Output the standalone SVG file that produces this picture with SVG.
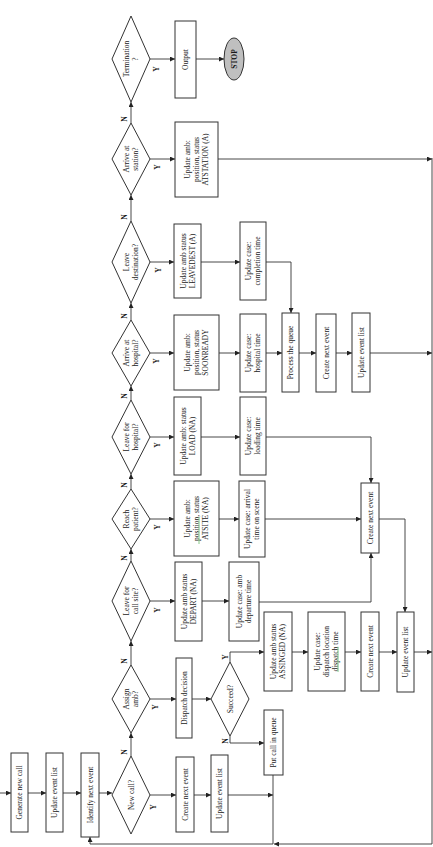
<svg xmlns="http://www.w3.org/2000/svg" width="433" height="847" viewBox="0 0 433 847">
<style>
.b{fill:#fff;stroke:#333;stroke-width:1}
.l{fill:none;stroke:#333;stroke-width:0.9}
.a{marker-end:url(#ar)}
text{font-family:"Liberation Serif","Times New Roman",serif;font-size:7.5px;fill:#1a1a1a;text-anchor:middle}
.lab{font-size:7.5px;font-weight:bold}
.g{stroke:#8c8;stroke-width:1}
</style>
<defs>
<marker id="ar" viewBox="0 0 6 6" refX="6" refY="3" markerWidth="5" markerHeight="5" markerUnits="userSpaceOnUse" orient="auto"><path d="M0,0L6,3L0,6z" fill="#222"/></marker>
</defs>

<g id="connectors">
<path class="l a" d="M0,793H11"/>
<path class="l a" d="M28,793H46"/>
<path class="l a" d="M63,793H81"/>
<path class="l a" d="M99,793H112"/>
<path class="l a" d="M131,756V733"/>
<path class="l a" d="M131,665V641"/>
<path class="l a" d="M131,561V549"/>
<path class="l a" d="M131,489V474"/>
<path class="l a" d="M131,400V386"/>
<path class="l a" d="M131,320V303"/>
<path class="l a" d="M131,221V195"/>
<path class="l a" d="M131,123V102"/>
<path class="l a" d="M150,59H175"/>
<path class="l a" d="M196,59H224"/>
<path class="l a" d="M150,159H175"/>
<path class="l a" d="M218,159H432"/>
<path class="l a" d="M150,262H174"/>
<path class="l a" d="M201,262H240"/>
<path class="l a" d="M266,262H291V313"/>
<path class="l a" d="M150,353H174"/>
<path class="l a" d="M219,353H240"/>
<path class="l a" d="M266,353H282"/>
<path class="l a" d="M299,353H316"/>
<path class="l a" d="M336,353H352"/>
<path class="l a" d="M370,353H432"/>
<path class="l a" d="M150,437H174"/>
<path class="l a" d="M201,437H240"/>
<path class="l a" d="M266,437H371V483"/>
<path class="l a" d="M150,519H174"/>
<path class="l a" d="M219,519H239"/>
<path class="l a" d="M265,519H361"/>
<path class="l a" d="M379,519H405V612"/>
<path class="l a" d="M150,601H175"/>
<path class="l a" d="M202,601H229"/>
<path class="l a" d="M259,602H371V553"/>
<path class="l a" d="M150,699H176"/>
<path class="l a" d="M192,699H211"/>
<path class="l a" d="M230,662V652H264"/>
<path class="l a" d="M292,652H308"/>
<path class="l a" d="M345,652H361"/>
<path class="l a" d="M379,652H397"/>
<path class="l a" d="M414,652H432"/>
<path class="l a" d="M230,736V743H264"/>
<path class="l" d="M273,775V844"/>
<path class="l a" d="M150,795H176"/>
<path class="l a" d="M194,795H211"/>
<path class="l a" d="M228,795H273"/>
<path class="l" d="M432,158V844"/>
<path class="l a" d="M432,844H274"/>
<path class="l a" d="M273,844H90V837"/>
<text class="lab" transform="translate(124,752) rotate(-90)" y="2.6">N</text>
<text class="lab" transform="translate(124,661) rotate(-90)" y="2.6">N</text>
<text class="lab" transform="translate(124,558) rotate(-90)" y="2.6">N</text>
<text class="lab" transform="translate(124,485) rotate(-90)" y="2.6">N</text>
<text class="lab" transform="translate(124,396) rotate(-90)" y="2.6">N</text>
<text class="lab" transform="translate(124,316) rotate(-90)" y="2.6">N</text>
<text class="lab" transform="translate(124,217) rotate(-90)" y="2.6">N</text>
<text class="lab" transform="translate(124,119) rotate(-90)" y="2.6">N</text>
<text class="lab" transform="translate(156,69) rotate(-90)" y="2.6">Y</text>
<text class="lab" transform="translate(157,167) rotate(-90)" y="2.6">Y</text>
<text class="lab" transform="translate(158,270) rotate(-90)" y="2.6">Y</text>
<text class="lab" transform="translate(156,361) rotate(-90)" y="2.6">Y</text>
<text class="lab" transform="translate(157,445) rotate(-90)" y="2.6">Y</text>
<text class="lab" transform="translate(157,527) rotate(-90)" y="2.6">Y</text>
<text class="lab" transform="translate(157,610) rotate(-90)" y="2.6">Y</text>
<text class="lab" transform="translate(155,707) rotate(-90)" y="2.6">Y</text>
<text class="lab" transform="translate(153,807) rotate(-90)" y="2.6">Y</text>
<text class="lab" transform="translate(225,657) rotate(-90)" y="2.6">Y</text>
<text class="lab" transform="translate(225,741) rotate(-90)" y="2.6">N</text>
</g>

<g id="generate">
<rect class="b" x="11" y="753" width="17" height="79"/>
<text transform="translate(19.5,792.5) rotate(-90)" y="2.6">Generate new call</text>
</g>
<g id="update-list-0">
<rect class="b" x="46" y="753" width="17" height="79"/>
<text transform="translate(54.5,792.5) rotate(-90)" y="2.6">Update event list</text>
</g>
<g id="identify">
<rect class="b" x="81" y="753" width="18" height="84"/>
<text transform="translate(90,795) rotate(-90)" y="2.6">Identify next event</text>
</g>

<g id="d-new">
<polygon class="b" points="131,756 150,795 131,834 112,795"/>
<text transform="translate(131,795) rotate(-90)" y="2.6">New call?</text>
</g>
<g id="d-assign">
<polygon class="b" points="131,665 150,699 131,733 112,699"/>
<text transform="translate(131,699) rotate(-90)"><tspan x="0" y="-1.9">Assign</tspan><tspan x="0" y="7.1">amb?</tspan></text>
</g>
<g id="d-site">
<polygon class="b" points="131,561 150,601 131,641 112,601"/>
<text transform="translate(131,601) rotate(-90)"><tspan x="0" y="-1.9">Leave for</tspan><tspan x="0" y="7.1">call site?</tspan></text>
</g>
<g id="d-reach">
<polygon class="b" points="131,489 150,519 131,549 112,519"/>
<text transform="translate(131,519) rotate(-90)"><tspan x="0" y="-1.9">Reach</tspan><tspan x="0" y="7.1">patient?</tspan></text>
</g>
<g id="d-lhosp">
<polygon class="b" points="131,400 150,437 131,474 112,437"/>
<text transform="translate(131,437) rotate(-90)"><tspan x="0" y="-1.9">Leave for</tspan><tspan x="0" y="7.1">hospital?</tspan></text>
</g>
<g id="d-hosp">
<polygon class="b" points="131,320 150,353 131,386 112,353"/>
<text transform="translate(131,353) rotate(-90)"><tspan x="0" y="-1.9">Arrive at</tspan><tspan x="0" y="7.1">hospital?</tspan></text>
</g>
<g id="d-dest">
<polygon class="b" points="131,221 150,262 131,303 112,262"/>
<text transform="translate(131,262) rotate(-90)"><tspan x="0" y="-1.9">Leave</tspan><tspan x="0" y="7.1">destination?</tspan></text>
</g>
<g id="d-station">
<polygon class="b" points="131,123 150,159 131,195 112,159"/>
<text transform="translate(131,159) rotate(-90)"><tspan x="0" y="-1.9">Arrive at</tspan><tspan x="0" y="7.1">station?</tspan></text>
</g>
<g id="d-term">
<polygon class="b" points="131,16 150,59 131,102 112,59"/>
<text transform="translate(131,59) rotate(-90)"><tspan x="0" y="-1.9">Termination</tspan><tspan x="0" y="7.1">?</tspan></text>
</g>

<g id="output">
<rect class="b" x="175" y="21" width="21" height="77"/>
<text transform="translate(185.5,59.5) rotate(-90)" y="2.6">Output</text>
</g>
<g id="stop">
<ellipse cx="234" cy="59" rx="10" ry="21" fill="#bfbfbf" stroke="#333" stroke-width="1"/>
<text transform="translate(234,59) rotate(-90)" y="2.6" font-weight="bold">STOP</text>
</g>

<g id="atstation">
<rect class="b" x="175" y="122" width="43" height="75"/>
<text transform="translate(196.5,159.5) rotate(-90)"><tspan x="0" y="-6.4">Update amb:</tspan><tspan x="0" y="2.6">position, status</tspan><tspan x="0" y="11.6">ATSTATION (A)</tspan></text>
</g>

<g id="leavedest">
<rect class="b" x="174" y="224" width="27" height="74"/>
<text transform="translate(187.5,261) rotate(-90)"><tspan x="0" y="-1.9">Update amb status</tspan><tspan x="0" y="7.1">LEAVEDEST (A)</tspan></text>
</g>
<g id="completion">
<rect class="b" x="240" y="222" width="26" height="78"/>
<text transform="translate(253,261) rotate(-90)"><tspan x="0" y="-1.9">Update case:</tspan><tspan x="0" y="7.1">completion time</tspan></text>
</g>

<g id="soonready">
<rect class="b" x="174" y="315" width="45" height="75"/>
<text transform="translate(196.5,352.5) rotate(-90)"><tspan x="0" y="-6.4">Update amb:</tspan><tspan x="0" y="2.6">position, status</tspan><tspan x="0" y="11.6">SOONREADY</tspan></text>
</g>
<g id="hosptime">
<rect class="b" x="240" y="314" width="26" height="78"/>
<text transform="translate(253,353) rotate(-90)"><tspan x="0" y="-1.9">Update case:</tspan><tspan x="0" y="7.1">hospital time</tspan></text>
</g>
<g id="queue">
<rect class="b" x="282" y="313" width="17" height="79"/>
<text transform="translate(290.5,352.5) rotate(-90)" y="2.6">Process the queue</text>
</g>
<g id="create-hosp">
<rect class="b" x="316" y="314" width="20" height="78"/>
<text transform="translate(326,353) rotate(-90)" y="2.6">Create next event</text>
</g>
<g id="update-hosp">
<rect class="b" x="352" y="313" width="18" height="79"/>
<text transform="translate(361,352.5) rotate(-90)" y="2.6">Update event list</text>
</g>

<g id="load">
<rect class="b" x="174" y="397" width="27" height="78"/>
<text transform="translate(187.5,436) rotate(-90)"><tspan x="0" y="-1.9">Update amb: status</tspan><tspan x="0" y="7.1">LOAD (NA)</tspan></text>
</g>
<g id="loadtime">
<rect class="b" x="240" y="397" width="26" height="78"/>
<text transform="translate(253,436) rotate(-90)"><tspan x="0" y="-1.9">Update case:</tspan><tspan x="0" y="7.1">loading time</tspan></text>
</g>

<g id="atsite">
<rect class="b" x="174" y="481" width="45" height="75"/>
<text transform="translate(196.5,518.5) rotate(-90)"><tspan x="0" y="-6.4">Update amb:</tspan><tspan x="0" y="2.6">position, status</tspan><tspan x="0" y="11.6">ATSITE (NA)</tspan></text>
<path class="g" d="M199,544V517"/>
</g>
<g id="arrival">
<rect class="b" x="239" y="481" width="26" height="76"/>
<text transform="translate(252,519) rotate(-90)"><tspan x="0" y="-1.9">Update case: arrival</tspan><tspan x="0" y="7.1">time on scene</tspan></text>
</g>
<g id="create-mid">
<rect class="b" x="361" y="483" width="18" height="70"/>
<text transform="translate(370,518) rotate(-90)" y="2.6">Create next event</text>
</g>

<g id="depart">
<rect class="b" x="175" y="562" width="27" height="79"/>
<text transform="translate(188.5,601.5) rotate(-90)"><tspan x="0" y="-1.9">Update amb status</tspan><tspan x="0" y="7.1">DEPART (NA)</tspan></text>
</g>
<g id="departtime">
<rect class="b" x="229" y="562" width="30" height="79"/>
<text transform="translate(244,601.5) rotate(-90)"><tspan x="0" y="-1.9">Update case: amb</tspan><tspan x="0" y="7.1">departure time</tspan></text>
</g>

<g id="dispatch">
<rect class="b" x="176" y="658" width="16" height="80"/>
<text transform="translate(184,698) rotate(-90)" y="2.6">Dispatch decision</text>
</g>
<g id="d-succeed">
<polygon class="b" points="230,662 249,699 230,736 211,699"/>
<text transform="translate(230,699) rotate(-90)" y="2.6">Succeed?</text>
</g>
<g id="assinged">
<rect class="b" x="264" y="612" width="28" height="79"/>
<text transform="translate(278,651.5) rotate(-90)"><tspan x="0" y="-1.9">Update amb status</tspan><tspan x="0" y="7.1">ASSINGED (NA)</tspan></text>
</g>
<g id="dispatchtime">
<rect class="b" x="308" y="612" width="37" height="79"/>
<text transform="translate(326.5,651.5) rotate(-90)"><tspan x="0" y="-6.4">Update case:</tspan><tspan x="0" y="2.6">dispatch location</tspan><tspan x="0" y="11.6">dispatch time</tspan></text>
<path class="g" d="M338,672V647"/>
</g>
<g id="create-assign">
<rect class="b" x="361" y="612" width="18" height="79"/>
<text transform="translate(370,651.5) rotate(-90)" y="2.6">Create next event</text>
</g>
<g id="update-assign">
<rect class="b" x="397" y="612" width="17" height="80"/>
<text transform="translate(405.5,652) rotate(-90)" y="2.6">Update event list</text>
</g>
<g id="putqueue">
<rect class="b" x="264" y="710" width="19" height="65"/>
<text transform="translate(273.5,742.5) rotate(-90)" y="2.6">Put call in queue</text>
</g>

<g id="create-new">
<rect class="b" x="176" y="757" width="18" height="75"/>
<text transform="translate(185,794.5) rotate(-90)" y="2.6">Create next event</text>
</g>
<g id="update-new">
<rect class="b" x="211" y="755" width="17" height="77"/>
<text transform="translate(219.5,793.5) rotate(-90)" y="2.6">Update event list</text>
</g>
</svg>
